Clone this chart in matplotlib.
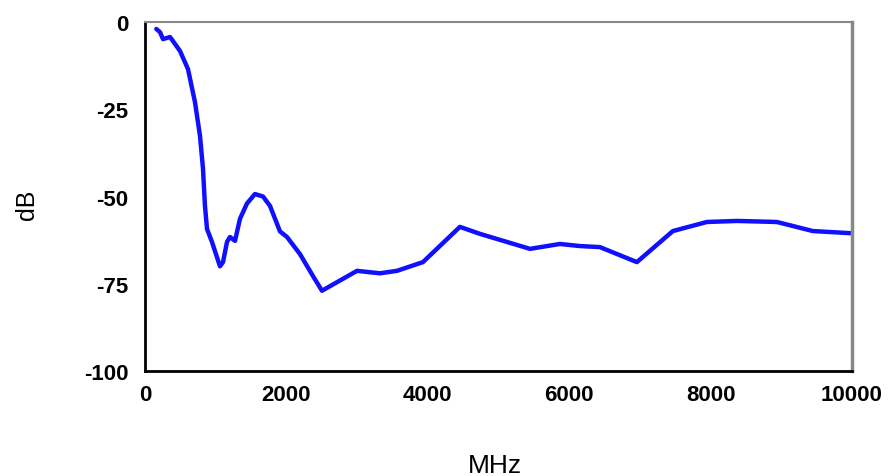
import matplotlib.pyplot as plt
from matplotlib.ticker import MultipleLocator

plt.rcParams['font.family'] = ['Liberation Sans', 'DejaVu Sans']
plt.rcParams['axes.unicode_minus'] = False

# 频率 (MHz) 与衰减 (dB)
freq = [160, 212, 255, 354, 495, 608, 707, 778, 820, 848, 877, 947, 1060,
        1103, 1160, 1202, 1273, 1343, 1442, 1555, 1669, 1768, 1909, 2008,
        2192, 2376, 2503, 2998, 3323, 3563, 3931, 4454, 4737, 5444, 5868,
        6151, 6434, 6957, 7466, 7947, 8371, 8937, 9446, 9969, 10000]
atten = [-2.0, -2.9, -4.9, -4.3, -8.3, -13.5, -23.0, -32.7, -42.0, -52.7,
         -59.3, -63.0, -70.0, -68.8, -63.0, -61.6, -62.7, -56.4, -52.0,
         -49.3, -50.0, -52.7, -60.0, -61.6, -66.5, -72.8, -77.0, -71.3,
         -72.0, -71.3, -68.8, -58.7, -60.7, -65.0, -63.6, -64.2, -64.5,
         -68.8, -59.9, -57.3, -57.0, -57.3, -59.9, -60.5, -60.5]

fig = plt.figure(figsize=(8.88, 4.77), dpi=100)
ax = fig.add_axes([0.1633, 0.2201, 0.7962, 0.7317])

ax.plot(freq, atten, color='#1010ff', linewidth=3.2,
        solid_capstyle='round', solid_joinstyle='round')

ax.set_xlim(0, 10000)
ax.set_ylim(-100, 0)
ax.xaxis.set_major_locator(MultipleLocator(2000))
ax.yaxis.set_major_locator(MultipleLocator(25))
ax.tick_params(axis='both', length=0, labelsize=16)
ax.tick_params(axis='x', pad=9)
ax.tick_params(axis='y', pad=12)
for lbl in ax.get_xticklabels() + ax.get_yticklabels():
    lbl.set_fontweight('bold')

# 左、下边框黑色，上、右边框灰色
for side in ['left', 'bottom']:
    ax.spines[side].set_color('black')
    ax.spines[side].set_linewidth(2)
ax.spines['top'].set_color('#888888')
ax.spines['top'].set_linewidth(1.5)
ax.spines['right'].set_color('#888888')
ax.spines['right'].set_linewidth(2.5)

fig.text(0.030, 0.57, 'dB', rotation=90, fontsize=18, ha='center', va='center')
fig.text(0.557, 0.008, 'MHz', fontsize=19, ha='center', va='baseline')

plt.savefig('out.png', dpi=100)
